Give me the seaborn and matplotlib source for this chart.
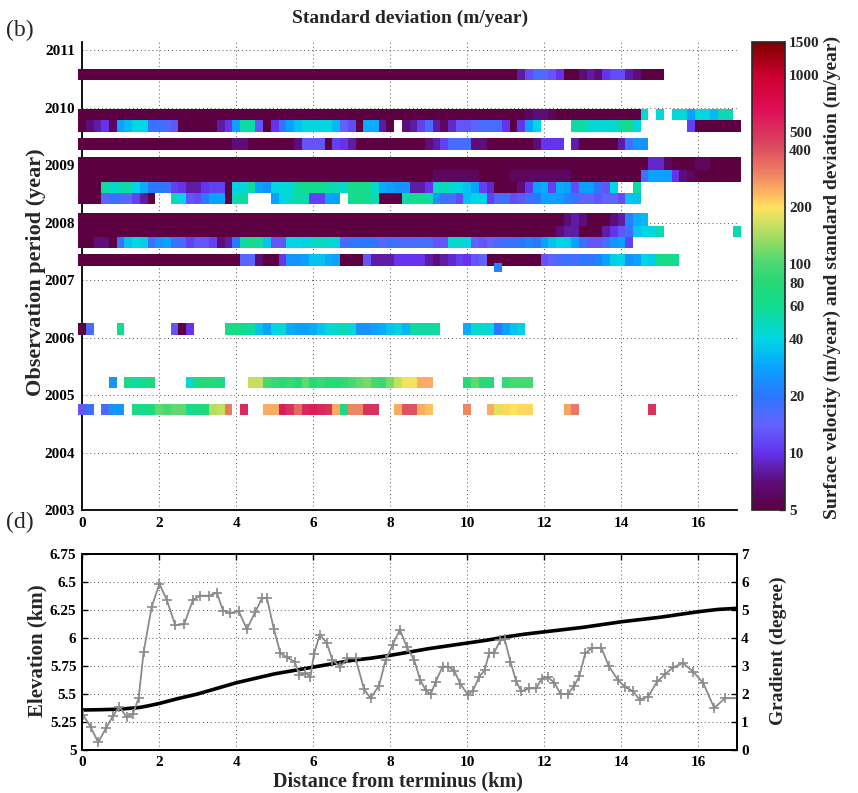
import numpy as np
import matplotlib
matplotlib.use("Agg")
import matplotlib.pyplot as plt
from matplotlib.colors import LinearSegmentedColormap, LogNorm
import seaborn as sns

sns.set_style("white")
plt.rcParams["font.family"] = ["Liberation Serif", "DejaVu Serif"]
plt.rcParams["font.weight"] = "bold"
plt.rcParams["axes.labelweight"] = "bold"

# ---------------------------------------------------------------- data
# along-flow cell centres (km from terminus)
distance_km = np.round(np.arange(86) * 0.2, 1)

# observation periods (decimal year, start/end) and standard deviation (m/year)
period_A = (2010.48, 2010.67)
sd_A = [5]*57 + [8, 12, 17, 15, 13, 10, 5, 5, 7, 8, 7, 10, 12, 12, 8, 7, 5, 5, 5] + [None]*10

period_B = (2009.78, 2009.97)
sd_B = [5]*58 + [6, 7, 7, 6] + [5]*11 + [42, None, 42, None, 42, 42, 28, 42, 40, 33, 50, 50, None]

period_C = (2009.57, 2009.78)
sd_C = ([5, 7, 8, 10, 6, 28, 33, 40, 40, 18, 18, 16, 13] + [5]*5 +
        [8, 10, 28, 55, 55, 13, 5, 10, 18, 28, 35, 40, 42, 40, 42, 33, 14, 12, 5, 30,
         30, 8, 5, None, 7, 8, 11, 17, 8, 6, 9, 13, 13, 15, 17, 17, 17, 10, 5, 10, 28, 40] +
        [None]*4 + [55, 55, 45, 42, 42, 45, 55, 65, 40] + [None]*6 + [11] + [5]*6)

period_D = (2009.26, 2009.47)
sd_D = ([5]*20 + [7, 7] + [5]*6 + [7, 13, 13, 13, 5, 11, 10, 8] + [5]*9 +
        [7, 8, 11, 16, 17, 17, 7, 7] + [5]*6 + [7, 10, 10, 10, None, 8] + [5]*5 +
        [8, 18, 25, 25] + [None]*12)

period_E = (2008.91, 2009.14)
sd_E = [5]*74 + [9, 9, 6] + [5]*3 + [6, 6] + [5]*4

period_F = (2008.70, 2008.91)
sd_F = [5]*46 + [6]*6 + [5]*4 + [6]*8 + [5]*9 + [17, 28, 28, 28, 10, 7, 6] + [5]*6

period_G = (2008.51, 2008.70)
sd_G = ([5, 5, 5, 55, 45, 50, 55, 40, 30, 20, 20, 18, 11, 10, 8, 8, 10, 11, 11, 5,
         38, 42, 55, 28, 25, 40, 42, 42, 55, 60, 60, 60, 55, 50, 45, 65, 65, 60, 45, 30,
         28, 25, 25, 8, 8, 10, 45, 50, 45, 40, 35, 28, 11, 9, 5, 5, 5, 7, 10, 28,
         30, 11, 30, 28, 12, 28, 28, 20, 13, 40, None, None, 55] + [None]*13)

period_H = (2008.32, 2008.51)
sd_H = ([5, 5, 5, 15, 18, 17, 15, 11, 8, 5, None, None, 50, 40, 13, 12, 20, 28, 28, 5,
         50, 55, None, None, None, 28, 40, 45, 55, 50, 11, 11, 28, 28, None, 60, 65, 60, 50, 5,
         5, 5, 55, 60, 60, 55, 25, 18, 17, 12, 35, 40, 38, 11, 16, 18, 12, 13, 18, 20,
         28, 28, 27, 22, 18, 14, 14, 13, 14, 14, 12, 35, 35] + [None]*13)

period_I = (2007.94, 2008.16)
sd_I = [5]*63 + [7, 8, 7, 5, 5, 5, 7, 8, 22, 30, 32] + [None]*12

period_J = (2007.75, 2007.94)
sd_J = [5]*62 + [7, 8, 8, 5, 5, 5, 8, 10, 13, 18, 35, 40, 42, 50] + [None]*9 + [50]

period_K = (2007.56, 2007.75)
sd_K = ([5, 5, 7, 7, 5, 18, 35, 40, 38, 18, 25, 28, 18, 17, 11, 13, 13, 11, 7, 8,
         20, 55, 65, 55, 35, 13, 13, 40, 40, 38, 45, 48, 45, 42, 17, 18, 20, 20, 18, 14,
         18, 17, 16, 17, 17, 17, 13, 13, 45, 45, 40, 14, 13, 14, 16, 18, 18, 20, 22, 20,
         28, 35, 40, 38, 28, 18, 13, 13, 16, 25, 28, 11] + [None]*14)

period_L = (2007.24, 2007.45)
sd_L = ([5]*21 + [15, 15, 7, 5, 5, 10, 25, 25, 28, 35, 35, 30, 28, 5, 5, 5, 13, 8, 8, 8,
                  10, 10, 10, 10, 8, 7, 8, 9, 11, 10, 13, 14] + [5]*7 +
        [13, 14, 17, 18, 17, 20, 18, 22, 28, 38, 40, 25, 28, 40, 38, 60, 65, 60] + [None]*8)

period_P = (2007.14, 2007.29)
sd_P = [None]*54 + [22] + [None]*31

period_M = (2006.05, 2006.26)
sd_M = ([5, 16] + [None]*3 + [60] + [None]*6 + [13, 5, 10] + [None]*4 +
        [65, 65, 60, 55, 35, 28, 40, 45, 30, 28, 28, 30, 35, 42, 45, 50, 42, 25, 25, 28,
         30, 35, 38, 32, 55, 55, 55, 55] + [None]*3 + [30, 45, 45, 40, 20, 28, 35, 38] + [None]*28)

period_N = (2005.12, 2005.31)
sd_N = ([None]*4 + [25, None, 70, 55, 60, 75] + [None]*4 + [45, 75, 80, 80, 70] + [None]*3 +
        [160, 160, 100, 90, 80, 90, 80, 110, 80, 90, 80, 80, 85, 100, 110, 120, 100, 90, 120, 160,
         190, 190, 250, 250] + [None]*4 + [80, 110, 80, 80, None, 90, 100, 100, 100] + [None]*27)

period_O = (2004.65, 2004.84)
sd_O = ([13, 18, None, 17, 25, 25, None, 70, 60, 75, 110, 100, 110, 110, 60, 70, 75, 150, 160, 320,
         None, 550, None, None, 250, 250, 600, 500, 350, 550, 600, 550, 500, 250, 70, 300, 300, 500, 500, None,
         None, 250, 400, 400, 250, 230] + [None]*4 + [300, None, None, 250, 180, 210, 200, 210, 210] +
        [None]*4 + [260, 320] + [None]*9 + [500] + [None]*11)

periods = [period_A, period_B, period_C, period_D, period_E, period_F, period_G, period_H,
           period_I, period_J, period_K, period_L, period_P, period_M, period_N, period_O]
std_rows = [sd_A, sd_B, sd_C, sd_D, sd_E, sd_F, sd_G, sd_H,
            sd_I, sd_J, sd_K, sd_L, sd_P, sd_M, sd_N, sd_O]

# colour scale anchors (m/year) and colours
scale_values = [5, 7, 10, 14, 20, 28, 40, 60, 80, 100, 140, 200, 240, 320, 450, 650, 1000, 1500]
scale_colors = ['#5c0042', '#5d0c78', '#6533ee', '#6262ff', '#2a78ff', '#0aa2ff', '#00d6e4',
                '#12dc8e', '#26d878', '#48d872', '#a2dc62', '#ffe35e', '#ffb462', '#ea7862',
                '#d9405e', '#e0105a', '#cc0030', '#7f0000']
colorbar_ticks = [5, 10, 20, 40, 60, 80, 100, 200, 400, 500, 1000, 1500]

# surface elevation profile (km)
elev_km = [0, 0.5, 1.0, 1.5, 1.8, 2.0, 2.5, 3.0, 3.5, 4.0, 4.5, 5.0, 5.5, 6.0, 6.5, 7.0, 7.5, 8.0,
           8.5, 9.0, 9.5, 10.0, 10.5, 11.0, 11.5, 12.0, 12.5, 13.0, 13.5, 14.0, 14.5, 15.0, 15.5,
           16.0, 16.5, 17.0]
elev_value = [5.357, 5.36, 5.365, 5.38, 5.40, 5.415, 5.46, 5.50, 5.55, 5.60, 5.64, 5.68, 5.71,
              5.74, 5.77, 5.80, 5.82, 5.845, 5.875, 5.905, 5.93, 5.955, 5.98, 6.01, 6.035, 6.055,
              6.075, 6.095, 6.12, 6.145, 6.165, 6.185, 6.21, 6.235, 6.255, 6.265]

# surface gradient (degree)
grad_km = [0.03, 0.23, 0.42, 0.62, 0.80, 0.97, 1.16, 1.32, 1.47, 1.60, 1.81, 2.01, 2.20, 2.42,
           2.65, 2.88, 3.07, 3.30, 3.50, 3.66, 3.85, 4.07, 4.28, 4.50, 4.67, 4.80, 4.98, 5.15,
           5.32, 5.52, 5.64, 5.80, 5.93, 6.02, 6.17, 6.35, 6.50, 6.70, 6.89, 7.10, 7.32, 7.49,
           7.71, 7.88, 8.06, 8.25, 8.43, 8.62, 8.78, 8.92, 9.05, 9.18, 9.36, 9.50, 9.66, 9.82,
           10.01, 10.14, 10.30, 10.45, 10.57, 10.70, 10.86, 10.97, 11.12, 11.27, 11.40, 11.61,
           11.79, 11.93, 12.09, 12.26, 12.42, 12.61, 12.78, 12.91, 13.06, 13.24, 13.48, 13.67,
           13.91, 14.10, 14.30, 14.47, 14.69, 14.93, 15.13, 15.34, 15.60, 15.86, 16.12, 16.41,
           16.69, 16.99]
grad_deg = [1.25, 0.81, 0.27, 0.77, 1.21, 1.55, 1.17, 1.29, 1.85, 3.51, 5.12, 5.93, 5.36, 4.46,
            4.49, 5.36, 5.51, 5.51, 5.62, 4.98, 4.90, 4.95, 4.32, 4.94, 5.42, 5.42, 4.32, 3.45,
            3.31, 3.15, 2.68, 2.74, 2.62, 3.43, 4.11, 3.83, 3.21, 2.98, 3.27, 3.27, 2.17, 1.85,
            2.30, 3.21, 3.75, 4.29, 3.69, 3.21, 2.50, 2.14, 1.99, 2.44, 2.98, 2.98, 2.83, 2.36,
            1.98, 2.10, 2.60, 2.85, 3.48, 3.48, 3.93, 3.95, 3.15, 2.45, 2.10, 2.20,
            2.20, 2.55, 2.60, 2.40, 2.00, 2.00, 2.30, 2.65, 3.45, 3.65, 3.65, 3.00,
            2.50, 2.25, 2.10, 1.80, 1.90, 2.45, 2.70, 2.95, 3.10, 2.80, 2.40, 1.50,
            1.85, 1.85]

elev_ticks = [5, 5.25, 5.5, 5.75, 6, 6.25, 6.5, 6.75]
elev_ticklabels = ["5", "5.25", "5.5", "5.75", "6", "6.25", "6.5", "6.75"]

# ---------------------------------------------------------------- figure
W, H = 858, 793
fig = plt.figure(figsize=(W / 100, H / 100), dpi=100)


def frame(left, top, right, bottom):
    return [left / W, 1 - bottom / H, (right - left) / W, (bottom - top) / H]


lo, hi = np.log(scale_values[0]), np.log(scale_values[-1])
cmap = LinearSegmentedColormap.from_list(
    "velocity", [((np.log(v) - lo) / (hi - lo), c) for v, c in zip(scale_values, scale_colors)])
norm = LogNorm(vmin=scale_values[0], vmax=scale_values[-1])

grid_kw = dict(color="#555555", linestyle=(0, (1, 3)), linewidth=0.7)
tick_kw = dict(direction="in", length=4, width=1, labelsize=11, colors="black")

# --- standard deviation panel
ax = fig.add_axes(frame(82, 42, 737, 510))
edges = np.append(distance_km - 0.1, distance_km[-1] + 0.1)
for (y0, y1), row in zip(periods, std_rows):
    vals = np.array([np.nan if v is None else v for v in row], dtype=float)
    ax.pcolormesh(edges, [y0, y1], np.ma.masked_invalid(vals)[None, :], cmap=cmap, norm=norm,
                  shading="flat", clip_on=False, zorder=3)
ax.set_xlim(0, 17)
ax.set_ylim(2003, 2011.14)
ax.set_xticks(np.arange(0, 17, 2))
ax.set_yticks(np.arange(2003, 2012))
ax.grid(True, **grid_kw)
ax.set_axisbelow(True)
for s in ("top", "right"):
    ax.spines[s].set_visible(False)
for s in ("left", "bottom"):
    ax.spines[s].set_linewidth(1.3)
    ax.spines[s].set_color("black")
ax.tick_params(**tick_kw, pad=5)

cax = fig.add_axes(frame(752, 42, 785, 510))
sm = plt.cm.ScalarMappable(norm=norm, cmap=cmap)
cb = fig.colorbar(sm, cax=cax)
cb.set_ticks(colorbar_ticks, labels=[str(t) for t in colorbar_ticks])
cax.minorticks_off()
cax.tick_params(direction="in", length=4, width=1, labelsize=11, pad=3)
cb.outline.set_linewidth(1.2)

# --- elevation / gradient panel
ax2 = fig.add_axes(frame(82, 554, 737, 750))
ax2r = ax2.twinx()
sns.lineplot(x=elev_km, y=elev_value, ax=ax2, color="black", linewidth=2.6,
             sort=False, estimator=None)
sns.lineplot(x=grad_km, y=grad_deg, ax=ax2r, color="#8a8a8a", linewidth=1.3, marker="+",
             markersize=6.5, markeredgewidth=1.2, markeredgecolor="#8a8a8a",
             sort=False, estimator=None)
ax2.set_xlim(0, 17)
ax2.set_ylim(5, 6.75)
ax2r.set_ylim(0, 7)
ax2.set_xticks(np.arange(0, 17, 2))
ax2.set_yticks(elev_ticks, labels=elev_ticklabels)
ax2r.set_yticks(range(8))
ax2.grid(True, **grid_kw)
ax2.set_xlabel("")
ax2.set_ylabel("")
ax2r.set_ylabel("")
for a in (ax2, ax2r):
    for s in a.spines.values():
        s.set_linewidth(1.3)
        s.set_color("black")
ax2.tick_params(**tick_kw, pad=4, top=True)
ax2r.tick_params(**tick_kw, pad=3)

# --- text
fig.text(410 / W, 1 - 18 / H, "Standard deviation (m/year)", ha="center", va="center",
         fontsize=14, fontweight="bold")
fig.text(6 / W, 1 - 30 / H, "(b)", ha="left", va="center", fontsize=17, fontweight="normal")
fig.text(6 / W, 1 - 522 / H, "(d)", ha="left", va="center", fontsize=17, fontweight="normal")
fig.text(36 / W, 1 - 272 / H, "Observation period (year)", rotation=90, ha="center",
         va="center", fontsize=16, fontweight="bold")
fig.text(832 / W, 1 - 277 / H, "Surface velocity (m/year) and standard deviation (m/year)",
         rotation=90, ha="center", va="center", fontsize=14, fontweight="bold")
fig.text(37 / W, 1 - 651 / H, "Elevation (km)", rotation=90, ha="center", va="center",
         fontsize=15, fontweight="bold")
fig.text(778 / W, 1 - 651 / H, "Gradient (degree)", rotation=90, ha="center", va="center",
         fontsize=14, fontweight="bold")
fig.text(398 / W, 1 - 781 / H, "Distance from terminus (km)", ha="center", va="center",
         fontsize=14.5, fontweight="bold")

fig.savefig("out.png", dpi=100, facecolor="white")
